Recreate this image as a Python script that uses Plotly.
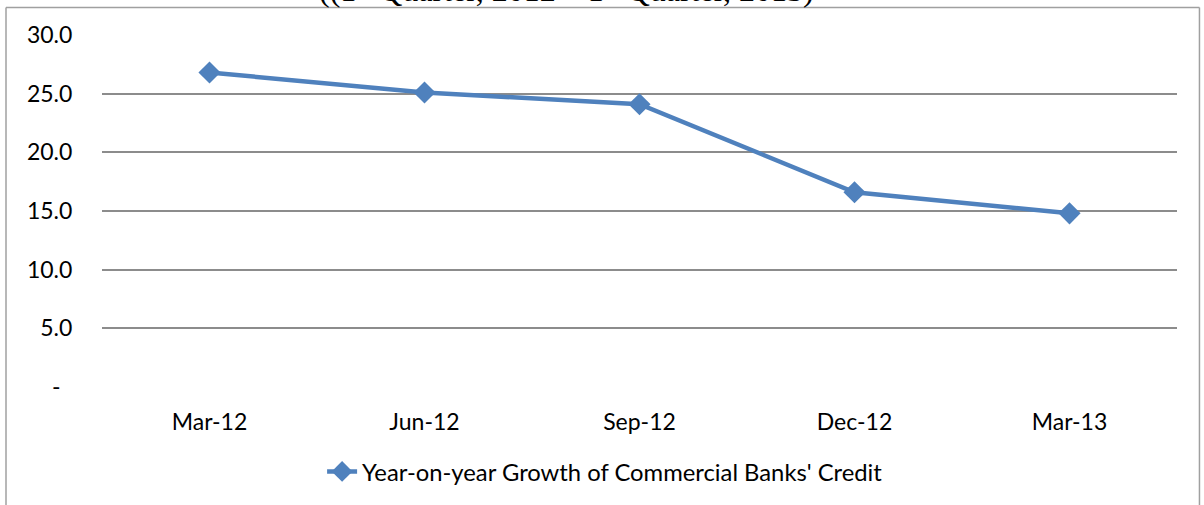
import plotly.graph_objects as go

# Quarterly year-on-year growth of commercial banks' credit (%)
quarters = ["Mar-12", "Jun-12", "Sep-12", "Dec-12", "Mar-13"]
credit_growth = [26.8, 25.1, 24.1, 16.6, 14.8]

y_ticks = [0, 5, 10, 15, 20, 25, 30]
y_tick_labels = ["-\u00a0\u00a0", "5.0", "10.0", "15.0", "20.0", "25.0", "30.0"]

series_name = "Year-on-year Growth of Commercial Banks' Credit"
subtitle = "((1<sup>st</sup> Quarter, 2012 \u2013 1<sup>st</sup> Quarter, 2013)"

blue = "#4F81BD"
grid_grey = "#8C8C8C"
tick_font = dict(family="Lato, Arial, sans-serif", size=23, color="#000000")
legend_font = dict(family="Lato, Arial, sans-serif", size=23.8, color="#000000")

fig = go.Figure()
fig.add_trace(go.Scatter(
    x=quarters,
    y=credit_growth,
    mode="lines+markers",
    name=series_name,
    line=dict(color=blue, width=4.5),
    marker=dict(symbol="diamond", size=17, color=blue),
))

fig.update_layout(
    width=1204,
    height=505,
    margin=dict(l=102, r=27, t=35, b=115),
    plot_bgcolor="#FFFFFF",
    paper_bgcolor="#FFFFFF",
    showlegend=True,
    legend=dict(
        orientation="h",
        x=0.468,
        xanchor="center",
        y=-0.24,
        yanchor="middle",
        font=legend_font,
        bgcolor="rgba(0,0,0,0)",
    ),
    xaxis=dict(
        type="category",
        range=[-0.5, 4.5],
        showgrid=False,
        zeroline=False,
        showline=False,
        ticks="outside",
        ticklen=14,
        tickcolor="rgba(0,0,0,0)",
        tickfont=tick_font,
    ),
    yaxis=dict(
        range=[0, 30],
        tickvals=y_ticks,
        ticktext=y_tick_labels,
        showgrid=True,
        gridcolor=grid_grey,
        gridwidth=1.5,
        zeroline=False,
        showline=False,
        ticks="outside",
        ticklen=24,
        tickcolor="rgba(0,0,0,0)",
        tickfont=tick_font,
    ),
    shapes=[
        # frame around the chart area
        dict(type="line", xref="paper", yref="paper",
             x0=-0.0893, x1=1.0209, y0=1.078, y1=1.078,
             line=dict(color="#A0A0A0", width=1.5)),
        dict(type="line", xref="paper", yref="paper",
             x0=-0.0893, x1=-0.0893, y0=1.078, y1=-0.5,
             line=dict(color="#A0A0A0", width=1.5)),
        dict(type="line", xref="paper", yref="paper",
             x0=1.0209, x1=1.0209, y0=1.078, y1=-0.5,
             line=dict(color="#A0A0A0", width=1.5)),
    ],
    annotations=[
        dict(text=subtitle, xref="paper", yref="paper",
             x=(566 - 102) / 1075, y=1.133, xanchor="center", yanchor="middle",
             showarrow=False,
             font=dict(family="Liberation Serif, Times New Roman, serif",
                       size=32, color="#000000")),
    ],
)

fig.write_html("out.html")
